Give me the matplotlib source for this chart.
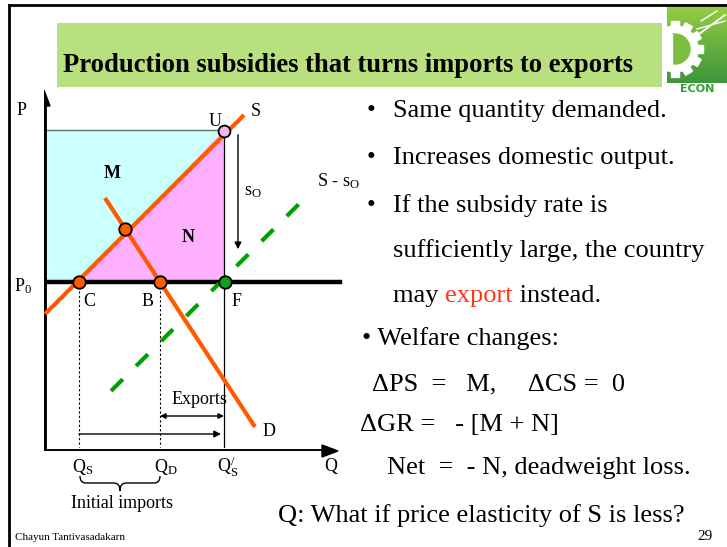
import matplotlib
matplotlib.use("Agg")
import matplotlib.pyplot as plt
import numpy as np
from matplotlib.path import Path
from matplotlib.patches import PathPatch, Polygon, Rectangle, Circle

plt.rcParams['font.family'] = ['Liberation Serif', 'DejaVu Serif']
plt.rcParams['mathtext.fontset'] = 'custom'
plt.rcParams['mathtext.rm'] = 'Liberation Serif'
plt.rcParams['mathtext.it'] = 'Liberation Serif:italic'

#-------------------------------------------------------------------------------
# diagram values (chart units: quantity to the right, price upward)
ORANGE = '#ff5a00'
GREEN = '#00a000'

q_c, q_b, q_f = 35, 116, 180          # Qs, Qd, Q's
p_0, p_u = 169, 321                   # world price, price at U
supply_q = [1, 200]
supply_p = [137, 336]
demand_q = [61, 211]
demand_p = [253, 24]
subsid_q = [67, 259]
subsid_p = [60, 251]
eq_point = (81, 222)                  # autarky intersection
u_point = (180, 320)
cb_q = [35, 116]                      # C and B on P0
f_point = (181, 169)
s0_arrow = (194, 319, 199)            # x, from, to
exports_arrow = (116, 180, 35)        # from, to, y
imports_arrow = (35, 177, 17)

bullets = ["Same quantity demanded.",
           "Increases domestic output.",
           "If the subsidy rate is"]
bullet_y = [111, 158, 206]

#-------------------------------------------------------------------------------
fig = plt.figure(figsize=(7.27, 5.47), dpi=100)
bg = fig.add_axes([0, 0, 1, 1])
bg.set_xlim(0, 727)
bg.set_ylim(547, 0)
bg.axis('off')

# slide frame
bg.plot([9, 727], [5, 5], color='k', lw=2)
bg.plot([9, 9], [5, 547], color='k', lw=2)

# title band
bg.add_patch(Rectangle((57, 23), 605, 64, facecolor='#b9e07f', edgecolor='none'))
bg.text(63, 72, "Production subsidies that turns imports to exports",
        fontsize=19.2, fontweight='bold', va='baseline')

# logo (drawn in its own pixel units)
logo = fig.add_axes([667/727, 1 - 95/547, 60/727, 88/547])
grad = np.linspace(0, 1, 64).reshape(-1, 1)
logo.imshow(grad, cmap=matplotlib.colors.LinearSegmentedColormap.from_list(
    'g', ['#94cc44', '#3c963a']), aspect='auto', extent=(0, 60, 76, 0))
logo.add_patch(Rectangle((0, 76), 60, 12, facecolor='white', edgecolor='none'))
gc = (8, 42)
for a in np.linspace(-np.pi / 2, np.pi / 2, 7):
    logo.add_patch(Rectangle((gc[0] + 24 * np.cos(a) - 4, gc[1] + 24 * np.sin(a) - 4),
                             8, 8, color='white',
                             transform=matplotlib.transforms.Affine2D().rotate_around(
                                 gc[0] + 24 * np.cos(a), gc[1] + 24 * np.sin(a), a)
                             + logo.transData))
logo.add_patch(Circle(gc, 23, color='white'))
logo.add_patch(Circle(gc, 15, color='#7cbe40'))
logo.add_patch(Rectangle((0, 27), 5, 30, color='white'))
logo.plot([28, 58], [30, 8], color='white', lw=1.3)
logo.plot([30, 58], [22, 14], color='white', lw=1.0)
logo.plot([34, 50], [14, 4], color='white', lw=1.0)
logo.text(30, 82, "ECON", color='#2ea02e', fontsize=8, family='DejaVu Sans',
          ha='center', va='center', fontweight='bold')
logo.set_xlim(0, 60)
logo.set_ylim(88, 0)
logo.axis('off')

# right-hand text
for t, y in zip(bullets, bullet_y):
    bg.text(371, y, "\u2022", fontsize=18, va='center', ha='center')
    bg.text(393, y, t, fontsize=19, va='center')
bg.text(393, 251, "sufficiently large, the country", fontsize=19, va='center')
renderer = fig.canvas.get_renderer()
t1 = bg.text(393, 296, "may ", fontsize=19, va='center')
x1 = bg.transData.inverted().transform(t1.get_window_extent(renderer))[1][0]
t2 = bg.text(x1, 296, "export", fontsize=19, va='center', color='#ff3a1a')
x2 = bg.transData.inverted().transform(t2.get_window_extent(renderer))[1][0]
bg.text(x2, 296, " instead.", fontsize=19, va='center')
bg.text(362, 339, "\u2022 Welfare changes:", fontsize=19, va='center')
bg.text(372, 384, "\u0394PS  =   M,     \u0394CS =  0", fontsize=19, va='center')
bg.text(360, 425, "\u0394GR =   - [M + N]", fontsize=19, va='center')
bg.text(387, 468, "Net  =  - N, deadweight loss.", fontsize=19, va='center')
bg.text(278, 516, "Q: What if price elasticity of S is less?", fontsize=19, va='center')
bg.text(697, 536, "29", fontsize=11, va='center')
bg.text(15, 538, "Chayun Tantivasadakarn", fontsize=8, va='center')

#-------------------------------------------------------------------------------
ax = fig.add_axes([44/727, 1 - 451/547, 300/727, 361/547])
ax.set_xlim(0, 300)
ax.set_ylim(0, 361)
ax.axis('off')

# shaded areas
ax.add_patch(Polygon([(0, p_u), (q_f, p_u), (q_c, p_0), (0, p_0)],
                     facecolor='#ccffff', edgecolor='none', zorder=1))
ax.add_patch(Polygon([(q_c, p_0), (q_f, p_u), (q_f, p_0)],
                     facecolor='#ffb0ff', edgecolor='none', zorder=1))
ax.plot([0, q_f], [p_u, p_u], color='#607070', lw=1, zorder=2)
ax.plot([q_f, q_f], [p_u, 4], color='k', lw=0.9, zorder=2)
for q in cb_q:
    ax.plot([q, q], [p_0, 4], color='k', lw=0.8, ls=(0, (2, 2)), zorder=2)

# axes
ax.plot([0, 0], [0, 348], color='k', lw=3.5, zorder=3, solid_capstyle='butt')
ax.plot([0, 281], [0, 0], color='k', lw=3.5, zorder=3, solid_capstyle='butt')
ax.add_patch(Polygon([(-6, 345), (6, 345), (0, 361)], color='k', zorder=3))
ax.add_patch(Polygon([(278, 6), (278, -6), (294, 0)], color='k', zorder=3, clip_on=False))
ax.plot([0, 296], [p_0, p_0], color='k', lw=3.2, zorder=3)

# curves
ax.plot(supply_q, supply_p, color=ORANGE, lw=3, zorder=4, solid_capstyle='butt')
ax.plot(demand_q, demand_p, color=ORANGE, lw=3, zorder=4, solid_capstyle='butt')
ax.plot(subsid_q, subsid_p, color=GREEN, lw=3, ls=(0, (4, 4.5)), zorder=4)

# points
ax.plot(cb_q, [p_0] * len(cb_q), 'o', ms=9, mfc=ORANGE, mec='k', mew=1.3, zorder=5)
ax.plot(*eq_point, 'o', ms=9, mfc=ORANGE, mec='k', mew=1.3, zorder=5)
ax.plot(*f_point, 'o', ms=9, mfc='#10a020', mec='k', mew=1.3, zorder=5)
ax.plot(*u_point, 'o', ms=8.5, mfc='#f0b8f0', mec='k', mew=1.3, zorder=5)

# arrows
ax.annotate("", xy=(s0_arrow[0], s0_arrow[2]), xytext=(s0_arrow[0], s0_arrow[1]),
            arrowprops=dict(arrowstyle='-|>', color='k', lw=1, mutation_scale=10))
ax.annotate("", xy=(exports_arrow[1], exports_arrow[2]),
            xytext=(exports_arrow[0], exports_arrow[2]),
            arrowprops=dict(arrowstyle='<|-|>', color='k', lw=1, mutation_scale=8,
                            shrinkA=0, shrinkB=0))
ax.annotate("", xy=(imports_arrow[1], imports_arrow[2]),
            xytext=(imports_arrow[0], imports_arrow[2]),
            arrowprops=dict(arrowstyle='-|>', color='k', lw=1, mutation_scale=10,
                            shrinkA=0, shrinkB=0))

# brace under Qs..Qd
bx0, bx1, by = q_c + 1, q_b, -25
mid = (bx0 + bx1) / 2
verts = [(bx0, by), (bx0, by - 7), (bx0 + 6, by - 7), (mid - 6, by - 7),
         (mid, by - 7), (mid, by - 15), (mid, by - 7), (mid + 6, by - 7),
         (bx1 - 6, by - 7), (bx1, by - 7), (bx1, by)]
codes = [Path.MOVETO, Path.CURVE3, Path.CURVE3, Path.LINETO, Path.CURVE3, Path.CURVE3,
         Path.CURVE3, Path.CURVE3, Path.LINETO, Path.CURVE3, Path.CURVE3]
ax.add_patch(PathPatch(Path(verts, codes), facecolor='none', edgecolor='k', lw=1,
                       clip_on=False))

# labels
fs = 13
kw = dict(fontsize=fs, ha='center', va='center', clip_on=False)
ax.text(-22, 341, "P", **kw)
ax.text(-21, 165, r"P$_\mathrm{0}$", **kw)
ax.text(171, 330, "U", **kw)
ax.text(212, 340, "S", **kw)
ax.text(68, 278, "M", fontweight='bold', **kw)
ax.text(144, 214, "N", fontweight='bold', **kw)
ax.text(294, 270, r"S - s$_\mathrm{O}$", **kw)
ax.text(209, 260, r"s$_\mathrm{O}$", **kw)
ax.text(45, 149, "C", **kw)
ax.text(104, 149, "B", **kw)
ax.text(193, 149, "F", **kw)
ax.text(225, 19, "D", **kw)
ax.text(155, 51, "Exports", **kw)
ax.text(39, -16, r"Q$_\mathrm{S}$", **kw)
ax.text(122, -16, r"Q$_\mathrm{D}$", **kw)
ax.text(184, -16, r"Q$_\mathrm{S}^{/}$", **kw)
ax.text(287, -15, "Q", **kw)
ax.text(78, -53, "Initial imports", **kw)

fig.savefig("out.png", dpi=100)
